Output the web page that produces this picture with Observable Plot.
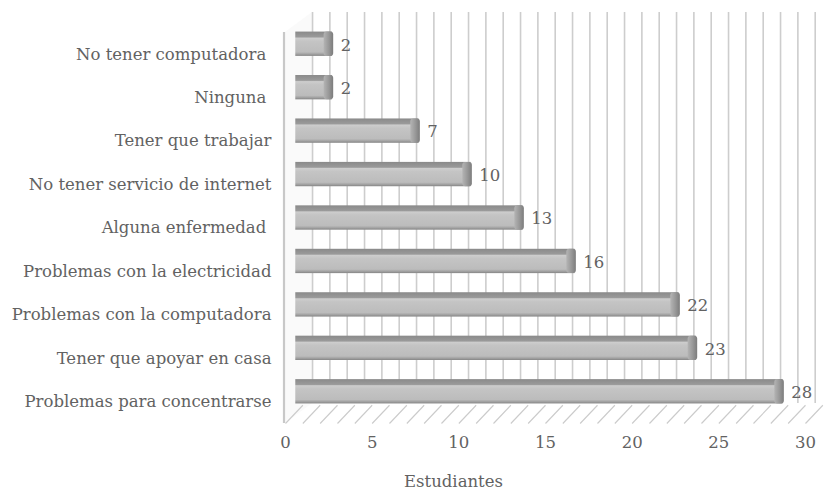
<!DOCTYPE html>
<html>
<head>
<meta charset="utf-8">
<script src="https://cdn.jsdelivr.net/npm/d3@7"></script>
<script src="https://cdn.jsdelivr.net/npm/@observablehq/plot@0.6"></script>
<style>
  html, body { margin: 0; padding: 0; background: #fff; }
  #chart svg { display: block; }
</style>
</head>
<body>
<div id="chart"></div>
<script>
// Difficulties reported by students (count of students), listed bottom to top
const categories = [
  "Problemas para concentrarse",
  "Tener que apoyar en casa",
  "Problemas con la computadora",
  "Problemas con la electricidad",
  "Alguna enfermedad ",
  "No tener servicio de internet",
  "Tener que trabajar",
  "Ninguna ",
  "No tener computadora "
];
const students = [28, 23, 22, 16, 13, 10, 7, 2, 2];
const xTicks = [0, 5, 10, 15, 20, 25, 30];
const axisTitle = "Estudiantes";

// Depth of the 3D box, in data units (x: students, y: category rows)
const DEPTH_X = 1.56;
const DEPTH_Y = 0.46;
const HALF_BAR = 0.28;
const BAR_START = DEPTH_X * 0.38;
const BAR_SHIFT = DEPTH_X / 2;

const rows = categories.map((name, i) => ({name, value: students[i], row: i + 0.5}));
const gridValues = d3.range(0, 31);

const font = "'DejaVu Serif', serif";
const textColor = "#626262";
const fontSize = 16.5;

const chart = Plot.plot({
  width: 830,
  height: 490,
  marginLeft: 285,
  marginRight: 25,
  marginTop: 32,
  marginBottom: 67,
  style: {fontFamily: font, fontSize: fontSize + "px", color: textColor, background: "#fff"},
  x: {domain: [0, 30], axis: null},
  y: {domain: [0, categories.length], axis: null},
  marks: [
    // left side wall
    Plot.area([0, categories.length], {
      x1: 0, x2: DEPTH_X,
      y1: d => d, y2: d => d + DEPTH_Y,
      fill: "#fafafa"
    }),
    // back wall gridlines
    Plot.ruleX(gridValues, {
      x: d => d + DEPTH_X, y1: DEPTH_Y, y2: categories.length + DEPTH_Y,
      stroke: "#cdcdcd", strokeWidth: 1.6
    }),
    // floor gridlines
    Plot.link(gridValues, {
      x1: d => d, y1: 0, x2: d => d + 1.0, y2: 0.42,
      stroke: "#cbcbcb", strokeWidth: 1.1
    }),
    // front edge of the side wall
    Plot.ruleX([0], {y1: 0, y2: categories.length, stroke: "#c8c8c8", strokeWidth: 2.2, dx: -1.5}),
    // shading where each bar end meets the side wall
    Plot.rect(rows, {
      x1: DEPTH_X * 0.3, x2: DEPTH_X * 0.64,
      y1: d => d.row + BAR_SHIFT * 0 + DEPTH_Y / 2 + HALF_BAR,
      y2: d => d.row + DEPTH_Y / 2 + HALF_BAR + 0.32,
      fill: "url(#leftShade)", filter: "url(#soft)"
    }),
    // bar bodies
    Plot.rect(rows, {
      x1: BAR_START, x2: d => d.value + BAR_SHIFT - 0.25,
      y1: d => d.row + DEPTH_Y / 2 - HALF_BAR,
      y2: d => d.row + DEPTH_Y / 2 + HALF_BAR,
      fill: "url(#barBody)", insetRight: -3
    }),
    // rounded bar ends
    Plot.rect(rows, {
      x1: d => d.value + BAR_SHIFT - 0.55, x2: d => d.value + BAR_SHIFT,
      y1: d => d.row + DEPTH_Y / 2 - HALF_BAR,
      y2: d => d.row + DEPTH_Y / 2 + HALF_BAR,
      fill: "url(#barEnd)", rx: 3
    }),
    // value labels
    Plot.text(rows, {
      x: d => d.value + BAR_SHIFT, y: d => d.row + DEPTH_Y / 2,
      text: d => String(d.value), dx: 7, dy: 1, textAnchor: "start",
      fill: textColor, fontSize
    }),
    // category labels
    Plot.axisY({
      ticks: rows.map(d => d.row),
      tickFormat: (t) => rows.find(d => d.row === t).name.replace(/ $/, "\u00a0"),
      tickSize: 0, tickPadding: 14, label: null, fontSize, fill: textColor
    }),
    // value axis
    Plot.axisX({
      ticks: xTicks, tickFormat: d => String(d),
      tickSize: 0, tickPadding: 13, label: null, fontSize, fill: textColor
    }),
    Plot.text([axisTitle], {
      frameAnchor: "bottom", dx: -92, dy: 63, text: d => d,
      fill: textColor, fontSize
    })
  ]
});

// gradients and blur used by the bars
const defs = d3.create("svg:defs");
const body = defs.append("linearGradient").attr("id", "barBody")
  .attr("x1", 0).attr("y1", 0).attr("x2", 0).attr("y2", 1);
[[0, "#8a8a8a"], [0.22, "#9a9a9a"], [0.27, "#cdcdcd"], [0.4, "#c4c4c4"],
 [0.84, "#bcbcbc"], [0.93, "#a0a0a0"], [1, "#858585"]].forEach(([o, c]) =>
  body.append("stop").attr("offset", o).attr("stop-color", c));
const end = defs.append("linearGradient").attr("id", "barEnd")
  .attr("x1", 0).attr("y1", 0).attr("x2", 1).attr("y2", 0);
[[0, "#b4b4b4"], [0.5, "#9a9a9a"], [1, "#7c7c7c"]].forEach(([o, c]) =>
  end.append("stop").attr("offset", o).attr("stop-color", c));
const shade = defs.append("linearGradient").attr("id", "leftShade")
  .attr("x1", 0).attr("y1", 0).attr("x2", 0).attr("y2", 1);
[[0, "#ffffff", 0], [0.6, "#b0b0b0", 0.7], [1, "#7e7e7e", 0.95]].forEach(([o, c, a]) =>
  shade.append("stop").attr("offset", o).attr("stop-color", c).attr("stop-opacity", a));
defs.append("filter").attr("id", "soft")
  .attr("x", "-50%").attr("y", "-50%").attr("width", "200%").attr("height", "200%")
  .append("feGaussianBlur").attr("stdDeviation", 1.2);
chart.insertBefore(defs.node(), chart.firstChild);

document.getElementById("chart").appendChild(chart);
</script>
</body>
</html>
